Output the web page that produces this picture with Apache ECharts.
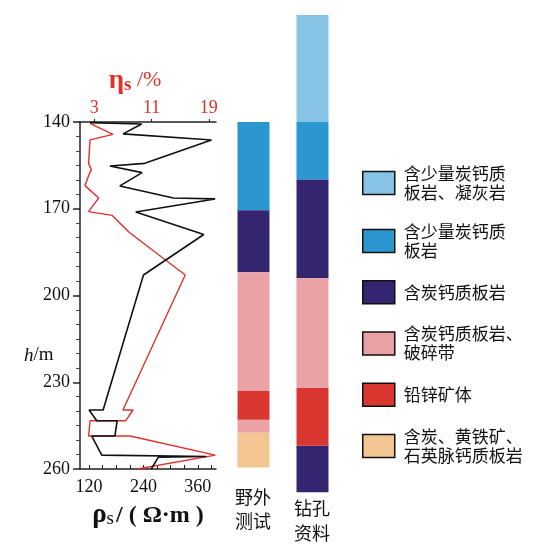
<!DOCTYPE html>
<html>
<head>
<meta charset="utf-8">
<script src="https://cdn.jsdelivr.net/npm/echarts@6/dist/echarts.min.js"></script>
<style>
  html, body { margin: 0; padding: 0; background: #fff; }
  #main { width: 539px; height: 555px; }
</style>
</head>
<body>
<div id="main"></div>
<script>
// 视电阻率 rho_s (Ω·m) 与深度 h (m)
const rhoDepth = [140.2, 140.7, 144.1, 146.2, 154.3, 155.2, 157.5, 162.1, 166.3, 166.6, 171.1, 178.9, 192.9, 239.6, 239.6, 243.3, 243.3, 248.6, 248.6, 255.2, 255.7, 255.9, 260];
const rhoValues = [122, 236, 195, 390, 243, 166, 237, 188, 306, 398, 223, 373, 240, 151, 120, 137, 182, 177, 126, 148, 379, 273, 257];
// 极化率 eta_s (%) 与深度
const etaDepth = [140.5, 144.3, 146.2, 154.3, 156.6, 157.3, 162.0, 166.3, 171.0, 172.3, 178.2, 192.9, 239.6, 239.6, 243.3, 243.3, 248.6, 248.6, 255.2, 260];
const etaValues = [2.4, 5.6, 2.4, 2.2, 2.6, 2.4, 1.7, 3.6, 2.2, 5.5, 7.9, 15.7, 7.0, 8.4, 7.4, 2.4, 2.2, 8.0, 19.9, 9.0];

const depthTicks = [140, 170, 200, 230, 260];
const rhoTicks = [120, 240, 360];
const etaTicks = [3, 11, 19];

// 岩性柱：0 野外测试，1 钻孔资料
const columns = ['野外\n测试', '钻孔\n资料'];
const fieldDepths = [140, 170.5, 192, 233, 243, 247.5, 259.5];
const fieldRock = [1, 2, 3, 4, 3, 5];
const drillDepths = [103, 140, 160, 194, 232, 252, 268];
const drillRock = [0, 1, 2, 3, 4, 2];

const rockNames = [
  '含少量炭钙质\n板岩、凝灰岩',
  '含少量炭钙质\n板岩',
  '含炭钙质板岩',
  '含炭钙质板岩、\n破碎带',
  '铅锌矿体',
  '含炭、黄铁矿、\n石英脉钙质板岩'
];
const rockColors = ['#86c3e4', '#2b97d1', '#35246f', '#e9a1a6', '#d93630', '#f2c593'];

const serif = "'Liberation Serif', 'DejaVu Serif', serif";
const cjk = "'Noto Sans CJK SC', sans-serif";

// 每种岩性一个 series，方便图例
function layersOf(rock) {
  const out = [];
  fieldRock.forEach((r, i) => { if (r === rock) out.push([0, fieldDepths[i], fieldDepths[i + 1]]); });
  drillRock.forEach((r, i) => { if (r === rock) out.push([1, drillDepths[i], drillDepths[i + 1]]); });
  return out;
}

function renderLayer(params, api) {
  const p1 = api.coord([api.value(0), api.value(1)]);
  const p2 = api.coord([api.value(0), api.value(2)]);
  const w = 32;
  return {
    type: 'rect',
    shape: { x: p1[0] - w / 2, y: p1[1], width: w, height: p2[1] - p1[1] },
    style: { fill: api.visual('color') }
  };
}

const rockSeries = rockNames.map((name, i) => ({
  name: name,
  type: 'custom',
  xAxisIndex: 2,
  yAxisIndex: 1,
  clip: false,
  color: rockColors[i],
  renderItem: renderLayer,
  data: layersOf(i)
}));

const chart = echarts.init(document.getElementById('main'));
chart.setOption({
  backgroundColor: '#fff',
  animation: false,
  grid: [
    { left: 80, right: 323, top: 122, bottom: 86 },
    { left: 224, width: 118, top: 122, bottom: 86 }
  ],
  legend: {
    orient: 'vertical',
    left: 357,
    top: 159,
    itemWidth: 32,
    itemHeight: 23,
    itemGap: 20,
    icon: 'rect',
    itemStyle: { borderColor: '#111', borderWidth: 1.5 },
    textStyle: { fontFamily: cjk, fontSize: 17, lineHeight: 19, color: '#111', padding: [0, 0, 0, 4] },
    data: rockNames
  },
  xAxis: [
    {
      type: 'value', gridIndex: 0, position: 'bottom', min: 100, max: 400,
      name: '{r|ρ}{s|s}{n|/ ( Ω·m )}',
      nameLocation: 'middle', nameGap: 33,
      nameTextStyle: {
        rich: {
          r: { fontFamily: serif, fontSize: 27, fontWeight: 'bold', color: '#111' },
          s: { fontFamily: serif, fontSize: 19, color: '#111', padding: [8, 2, 0, 0] },
          n: { fontFamily: serif, fontSize: 24, fontWeight: 'bold', color: '#111' }
        }
      },
      axisLine: { lineStyle: { color: '#222', width: 1.5 } },
      axisTick: { inside: true, length: 4, customValues: [120, 150, 180, 210, 240, 270, 300, 330, 360, 390], lineStyle: { color: '#222' } },
      axisLabel: { customValues: rhoTicks, margin: 9, fontFamily: serif, fontSize: 18, color: '#111' },
      splitLine: { show: false }
    },
    {
      type: 'value', gridIndex: 0, position: 'top', min: 1, max: 20,
      name: '{e|η}{s|s}{n| /%}',
      nameLocation: 'middle', nameGap: 27,
      nameTextStyle: {
        padding: [0, 26, 0, 0],
        rich: {
          e: { fontFamily: serif, fontSize: 27, fontWeight: 'bold', color: '#e0302a' },
          s: { fontFamily: serif, fontSize: 19, fontWeight: 'bold', color: '#e0302a', padding: [8, 0, 0, 0] },
          n: { fontFamily: serif, fontSize: 22, color: '#e0302a' }
        }
      },
      axisLine: { lineStyle: { color: '#222', width: 1.5 } },
      axisTick: { length: 3, customValues: etaTicks, lineStyle: { color: '#222' } },
      axisLabel: { customValues: etaTicks, margin: 5, fontFamily: serif, fontSize: 18, color: '#e0302a' },
      splitLine: { show: false }
    },
    {
      type: 'category', gridIndex: 1, data: columns, show: false
    }
  ],
  yAxis: [
    {
      type: 'value', gridIndex: 0, inverse: true, min: 140, max: 260, interval: 30,
      axisLine: { show: true, lineStyle: { color: '#222', width: 1.5 } },
      axisTick: { show: true, length: 7, lineStyle: { color: '#222', width: 1.5 } },
      minorTick: { show: true, splitNumber: 6, length: 4, lineStyle: { color: '#444' } },
      axisLabel: { margin: 10, fontFamily: serif, fontSize: 18, color: '#111' },
      splitLine: { show: false }
    },
    {
      type: 'value', gridIndex: 1, inverse: true, min: 140, max: 260, show: false
    }
  ],
  graphic: [
    {
      type: 'text', left: 24, top: 346,
      style: {
        text: '{i|h}{n|/m}',
        rich: {
          i: { fontFamily: serif, fontSize: 19, fontStyle: 'italic', fill: '#111' },
          n: { fontFamily: serif, fontSize: 19, fill: '#111' }
        }
      }
    },
    {
      type: 'text', left: 235, top: 485,
      style: { text: columns[0], fontFamily: cjk, fontSize: 18, lineHeight: 24, fill: '#111' }
    },
    {
      type: 'text', left: 294, top: 496,
      style: { text: columns[1], fontFamily: cjk, fontSize: 18, lineHeight: 25, fill: '#111' }
    }
  ],
  series: [
    {
      name: 'rho',
      type: 'line',
      xAxisIndex: 0, yAxisIndex: 0,
      showSymbol: false,
      lineStyle: { color: '#111', width: 1.6 },
      data: rhoValues.map((v, i) => [v, rhoDepth[i]]),
      z: 3
    },
    {
      name: 'eta',
      type: 'line',
      xAxisIndex: 1, yAxisIndex: 0,
      showSymbol: false,
      lineStyle: { color: '#e0302a', width: 1.4 },
      data: etaValues.map((v, i) => [v, etaDepth[i]]),
      z: 2
    }
  ].concat(rockSeries)
});
</script>
</body>
</html>
